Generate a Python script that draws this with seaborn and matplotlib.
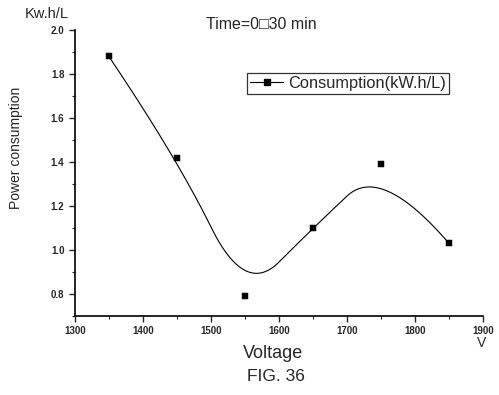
import numpy as np
import pandas as pd
import matplotlib
matplotlib.use('Agg')
import matplotlib.pyplot as plt
import seaborn as sns
from matplotlib.ticker import MultipleLocator

# Data
voltage = [1350, 1450, 1550, 1650, 1750, 1850]
consumption = [1.88, 1.42, 0.79, 1.10, 1.39, 1.03]


def bspline(xs, ys, k=2, n=300):
    # clamped uniform B-spline using the points as control points
    m = len(xs)
    knots = np.concatenate([np.zeros(k), np.arange(m - k + 1), np.full(k, m - k)]).astype(float)
    t = np.linspace(0, m - k, n)
    t[-1] -= 1e-9

    def basis(i, d, t):
        if d == 0:
            return ((knots[i] <= t) & (t < knots[i + 1])).astype(float)
        out = np.zeros_like(t)
        if knots[i + d] != knots[i]:
            out += (t - knots[i]) / (knots[i + d] - knots[i]) * basis(i, d - 1, t)
        if knots[i + d + 1] != knots[i + 1]:
            out += (knots[i + d + 1] - t) / (knots[i + d + 1] - knots[i + 1]) * basis(i + 1, d - 1, t)
        return out

    B = np.array([basis(i, k, t) for i in range(m)])
    return B.T @ np.array(xs, float), B.T @ np.array(ys, float)


df = pd.DataFrame({'Voltage': voltage, 'Consumption': consumption})

sns.set_style('ticks')
plt.rcParams['font.family'] = ['Liberation Sans', 'DejaVu Sans']

fig = plt.figure(figsize=(4.99, 3.95), dpi=100)
ax = fig.add_axes([0.150, 0.200, 0.818, 0.724])

# smoothed connecting line
sx, sy = bspline(voltage, consumption, k=2)
ax.plot(sx, sy, color='black', linewidth=0.8)

sns.scatterplot(data=df, x='Voltage', y='Consumption', marker='s', s=18,
                color='black', edgecolor='black', ax=ax, legend=False, zorder=3)

# legend handle: line with square marker
ax.plot([], [], color='black', linewidth=0.8, marker='s', markersize=4,
        label='Consumption(kW.h/L)')
leg = ax.legend(loc='upper left', bbox_to_anchor=(0.4216, 0.85), borderaxespad=0,
                frameon=True, fancybox=False, edgecolor='black', fontsize=11.8,
                handlelength=2.0, handletextpad=0.3, borderpad=0.2)
leg.get_frame().set_linewidth(0.9)

ax.set_xlim(1300, 1900)
ax.set_ylim(0.7, 2.0)
ax.xaxis.set_major_locator(MultipleLocator(100))
ax.xaxis.set_minor_locator(MultipleLocator(50))
ax.yaxis.set_minor_locator(MultipleLocator(0.1))
ax.set_yticks([0.8, 1.0, 1.2, 1.4, 1.6, 1.8, 2.0])
ax.yaxis.set_major_formatter(matplotlib.ticker.FormatStrFormatter('%.1f'))
ax.tick_params(which='major', length=4, width=1, labelsize=7)
ax.tick_params(which='minor', length=2, width=0.8)
for lbl in ax.get_xticklabels() + ax.get_yticklabels():
    lbl.set_fontweight('bold')
sns.despine(ax=ax)
for s in ['left', 'bottom']:
    ax.spines[s].set_linewidth(1.2)
    ax.spines[s].set_color('black')

ax.set_xlabel('')
ax.set_ylabel('')
fig.text(0.032, 0.625, 'Power consumption', fontsize=10, rotation=90, ha='center', va='center')
fig.text(0.548, 0.106, 'Voltage', fontsize=13, ha='center', va='center')
fig.text(0.05, 0.965, 'Kw.h/L', fontsize=10.5, ha='left', va='center')
fig.text(0.524, 0.937, 'Time=0\u25a130 min', fontsize=11.5, ha='center', va='center')
fig.text(0.966, 0.132, 'V', fontsize=10, ha='center', va='center')
fig.text(0.553, 0.048, 'FIG. 36', fontsize=12.5, ha='center', va='center')

plt.savefig('out.png', dpi=100)
